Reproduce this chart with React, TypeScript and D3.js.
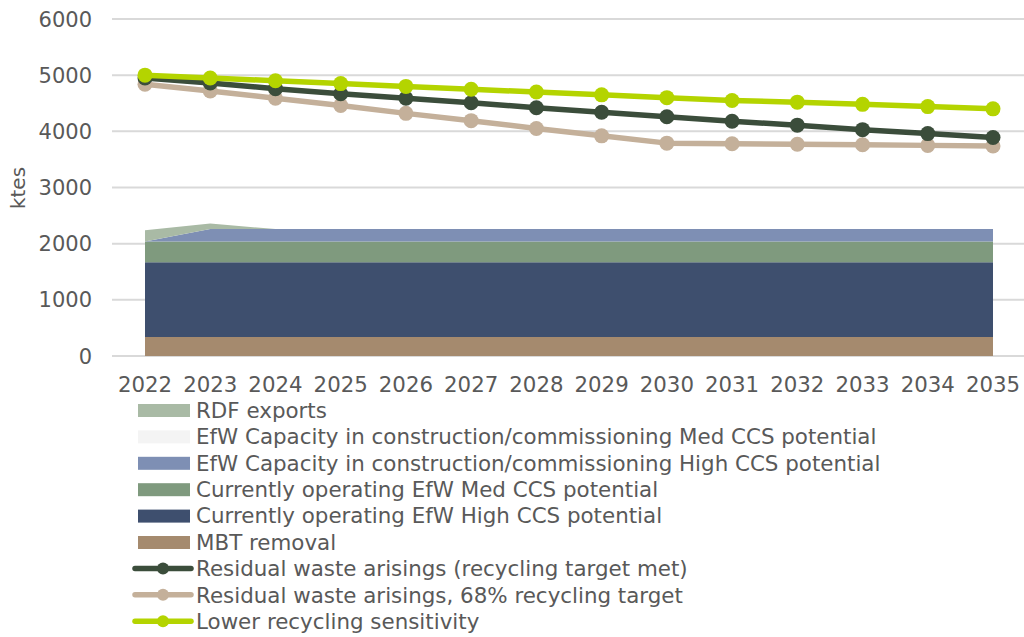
import React from "react";
import * as d3 from "d3";

const years = ["2022","2023","2024","2025","2026","2027","2028","2029","2030","2031","2032","2033","2034","2035"];
const mbtRemoval = [340,340,340,340,340,340,340,340,340,340,340,340,340,340];
const opHighCCS = [1330,1330,1330,1330,1330,1330,1330,1330,1330,1330,1330,1330,1330,1330];
const opMedCCS = [370,370,370,370,370,370,370,370,370,370,370,370,370,370];
const conHighCCS = [0,220,220,220,220,220,220,220,220,220,220,220,220,220];
const conMedCCS = [0,0,0,0,0,0,0,0,0,0,0,0,0,0];
const rdfExports = [200,100,0,0,0,0,0,0,0,0,0,0,0,0];
const residualTargetMet = [4950,4860,4760,4670,4590,4510,4420,4340,4260,4180,4110,4030,3960,3890];
const residual68 = [4840,4720,4590,4460,4320,4190,4050,3920,3790,3780,3770,3760,3750,3740];
const lowerRecycling = [5000,4950,4900,4850,4800,4750,4700,4650,4600,4550,4520,4480,4440,4400];
const yTicks = [0,1000,2000,3000,4000,5000,6000];

const areaSeries = [
  { name: "MBT removal", values: mbtRemoval, color: "#a58a6e" },
  { name: "Currently operating EfW High CCS potential", values: opHighCCS, color: "#3e4f6e" },
  { name: "Currently operating EfW Med CCS potential", values: opMedCCS, color: "#7f9a7e" },
  { name: "EfW Capacity in construction/commissioning High CCS potential", values: conHighCCS, color: "#7e8fb4" },
  { name: "EfW Capacity in construction/commissioning Med CCS potential", values: conMedCCS, color: "#f4f4f4" },
  { name: "RDF exports", values: rdfExports, color: "#a9baa5" },
];
const lineSeries = [
  { name: "Residual waste arisings, 68% recycling target", values: residual68, color: "#c4b09a" },
  { name: "Residual waste arisings (recycling target met)", values: residualTargetMet, color: "#3b4d3b" },
  { name: "Lower recycling sensitivity", values: lowerRecycling, color: "#b4d400" },
];
const legendOrder = [
  { kind: "area", s: areaSeries[5] },
  { kind: "area", s: areaSeries[4] },
  { kind: "area", s: areaSeries[3] },
  { kind: "area", s: areaSeries[2] },
  { kind: "area", s: areaSeries[1] },
  { kind: "area", s: areaSeries[0] },
  { kind: "line", s: lineSeries[1] },
  { kind: "line", s: lineSeries[0] },
  { kind: "line", s: lineSeries[2] },
];

const W = 1024, H = 637;
const FONT = "DejaVu Sans, Verdana, sans-serif";
const TXT = "#595959";

export default function App() {
  const x = d3.scalePoint<string>().domain(years).range([145, 993]);
  const y = d3.scaleLinear().domain([0, 6000]).range([356, 19]);
  const stackData = years.map((yr, i) => {
    const o: any = { year: yr };
    areaSeries.forEach((s, k) => (o["s" + k] = s.values[i]));
    return o;
  });
  const stack = d3.stack<any>().keys(areaSeries.map((_, k) => "s" + k));
  const stacked = stack(stackData);
  const area = d3.area<any>()
    .x((d) => x(d.data.year)!)
    .y0((d) => y(d[0]))
    .y1((d) => y(d[1]));
  const line = d3.line<number>().x((_, i) => x(years[i])!).y((v) => y(v));

  return (
    <svg width={W} height={H} style={{ position: "absolute", left: 0, top: 0, background: "#fff" }}>
      <rect width={W} height={H} fill="#fff" />
      {yTicks.map((t) => (
        <g key={t}>
          <line x1={112} x2={1024} y1={y(t)} y2={y(t)} stroke="#d9d9d9" strokeWidth={2} />
          <text x={92} y={y(t)} dy="0.36em" textAnchor="end" fontFamily={FONT} fontSize={21} fill={TXT}>{t}</text>
        </g>
      ))}
      <text transform={`translate(25,188) rotate(-90)`} textAnchor="middle" fontFamily={FONT} fontSize={20} fill={TXT}>ktes</text>
      {stacked.map((layer, k) => (
        <path key={k} d={area(layer as any)!} fill={areaSeries[k].color} />
      ))}
      {lineSeries.map((s) => (
        <g key={s.name}>
          <path d={line(s.values)!} fill="none" stroke={s.color} strokeWidth={5.5} strokeLinejoin="round" />
          {s.values.map((v, i) => (
            <circle key={i} cx={x(years[i])} cy={y(v)} r={7.5} fill={s.color} />
          ))}
        </g>
      ))}
      {years.map((yr) => (
        <text key={yr} x={x(yr)} y={392} textAnchor="middle" fontFamily={FONT} fontSize={21.3} fill={TXT}>{yr}</text>
      ))}
      {legendOrder.map((it, i) => {
        const cy = 410 + i * 26.4;
        return (
          <g key={i}>
            {it.kind === "area" ? (
              <rect x={138} y={cy - 6} width={52} height={13} fill={it.s.color} />
            ) : (
              <g>
                <line x1={135} x2={191} y1={cy} y2={cy} stroke={it.s.color} strokeWidth={5.5} strokeLinecap="round" />
                <circle cx={163} cy={cy} r={6} fill={it.s.color} />
              </g>
            )}
            <text x={196} y={cy} dy="0.36em" fontFamily={FONT} fontSize={21.4} fill={TXT}>{it.s.name}</text>
          </g>
        );
      })}
    </svg>
  );
}
